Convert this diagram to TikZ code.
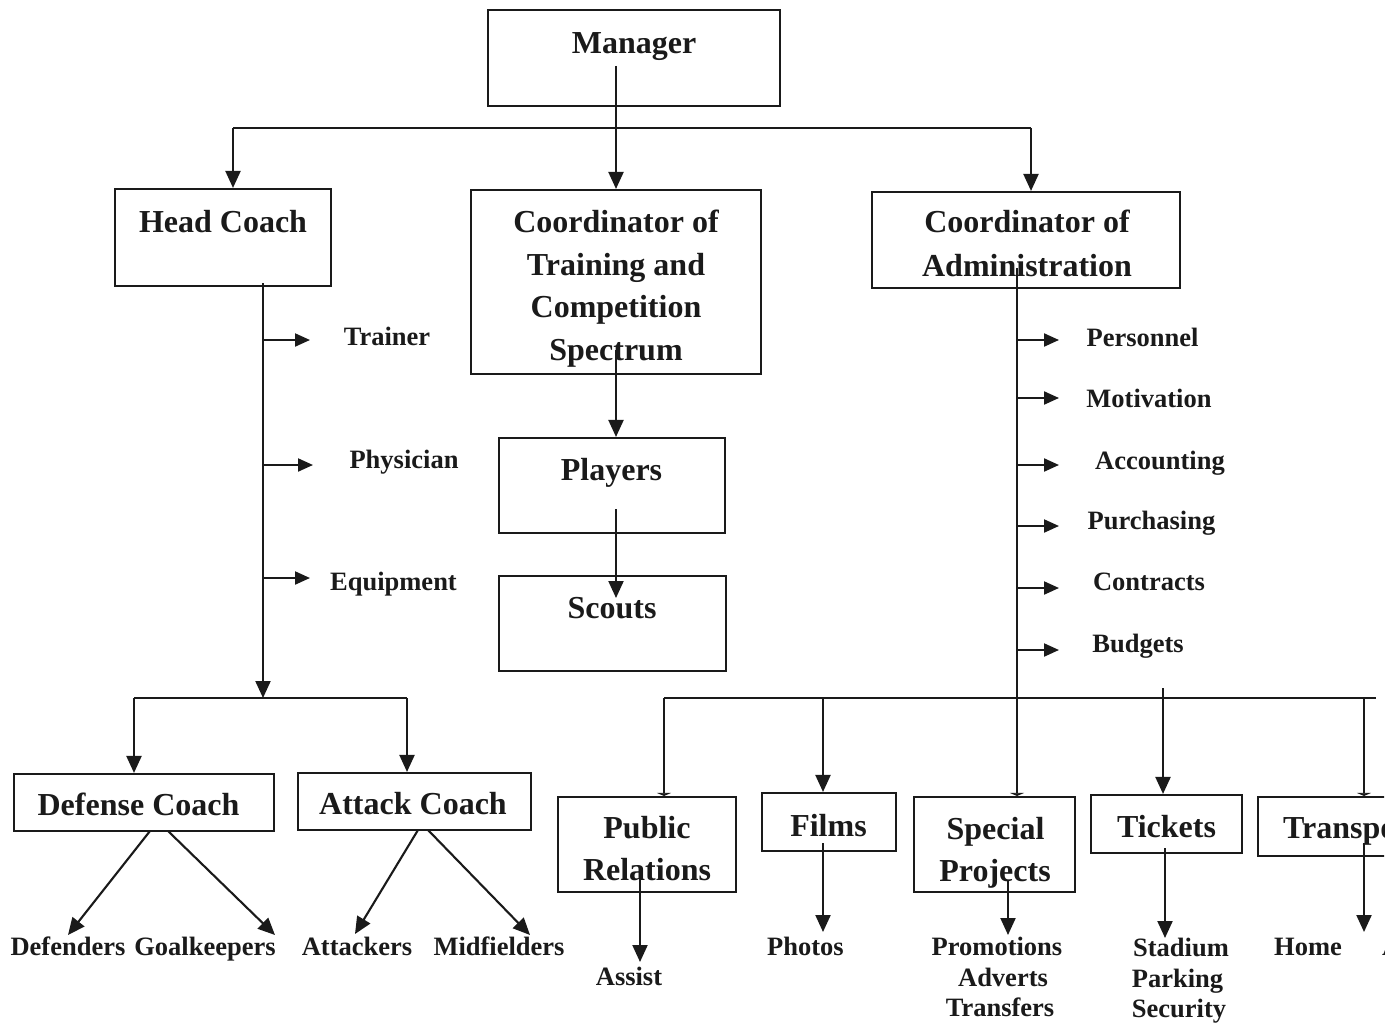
\documentclass[tikz,border=0pt]{standalone}
\usepackage{fontspec}
\setmainfont{Liberation Serif}
\usetikzlibrary{arrows.meta}
\definecolor{ink}{HTML}{1A1A1A}
\tikzset{
  box/.style={draw=ink, line width=2.1pt, inner sep=0pt, anchor=center},
  big/.style={font=\fontsize{32}{38}\bfseries\selectfont, text=ink, inner sep=0pt, anchor=base},
  small/.style={font=\fontsize{26.5}{30}\bfseries\selectfont, text=ink, inner sep=0pt, anchor=base},
  ln/.style={draw=ink, line width=2.1pt},
  arr/.style={ln, -{Triangle[width=15pt,length=17pt]}},
  sarr/.style={ln, -{Triangle[width=13pt,length=15pt]}},
  flat/.style={ln, -{Triangle[width=14pt,length=3pt]}}
}
\begin{document}
\begin{tikzpicture}[x=1pt,y=-1pt]
\useasboundingbox (0,0) rectangle (1391,1022);
\fill[white] (0,0) rectangle (1391,1022);
\clip (0,0) rectangle (1384,1022);

% ---------- boxes ----------
\node[box, minimum width=292pt, minimum height=96pt] (mgr) at (634,58) {};
\node[box, minimum width=216pt, minimum height=97pt] (hc) at (223,237.5) {};
\node[box, minimum width=290pt, minimum height=184pt] (ct) at (616,282) {};
\node[box, minimum width=308pt, minimum height=96pt] (ca) at (1026,240) {};
\node[box, minimum width=226pt, minimum height=95pt] (pl) at (612,485.5) {};
\node[box, minimum width=227pt, minimum height=95pt] (sc) at (612.5,623.5) {};
\node[box, minimum width=260pt, minimum height=57pt] (dc) at (144,802.5) {};
\node[box, minimum width=233pt, minimum height=57pt] (ac) at (414.5,801.5) {};
\node[box, minimum width=178pt, minimum height=95pt] (pr) at (647,844.5) {};
\node[box, minimum width=134pt, minimum height=58pt] (fi) at (829,822) {};
\node[box, minimum width=161pt, minimum height=95pt] (sp) at (994.5,844.5) {};
\node[box, minimum width=151pt, minimum height=58pt] (ti) at (1166.5,824) {};
\node[box, minimum width=182pt, minimum height=59pt] (tr) at (1349,826.5) {};

% ---------- box titles ----------
\node[big] (mgrT) at (634,54) {Manager};
\node[big] (hcT) at (223,232) {Head Coach};
\node[big] (ctT1) at (616,232) {Coordinator of};
\node[big] (ctT2) at (616,275) {Training and};
\node[big] (ctT3) at (616,317) {Competition};
\node[big] (ctT4) at (616,360) {Spectrum};
\node[big] (caT1) at (1027,232) {Coordinator of};
\node[big] (caT2) at (1027,276) {Administration};
\node[big] (plT) at (611.5,480) {Players};
\node[big] (scT) at (612,618) {Scouts};
\node[big] (dcT) at (138.5,815) {Defense Coach};
\node[big] (acT) at (413,814) {Attack Coach};
\node[big] (prT1) at (647,838) {Public};
\node[big] (prT2) at (647,880) {Relations};
\node[big] (fiT) at (828.5,836) {Films};
\node[big] (spT1) at (995.5,839) {Special};
\node[big] (spT2) at (995,881) {Projects};
\node[big] (tiT) at (1166.5,837) {Tickets};
\node[big, anchor=base west] (trT) at (1283,838) {Transport};

% ---------- side labels ----------
\node[small] (trn) at (387,345) {Trainer};
\node[small] (phy) at (404,468) {Physician};
\node[small] (equ) at (393.5,590) {Equipment};
\node[small] (per) at (1142.5,346) {Personnel};
\node[small] (mot) at (1149,407) {Motivation};
\node[small] (acc) at (1160,469) {Accounting};
\node[small] (pur) at (1151.5,529) {Purchasing};
\node[small] (con) at (1149,590) {Contracts};
\node[small] (bud) at (1138,652) {Budgets};

% ---------- bottom labels ----------
\node[small] (def) at (68,955) {Defenders};
\node[small] (gk) at (205,955) {Goalkeepers};
\node[small] (att) at (357,955) {Attackers};
\node[small] (mid) at (499,955) {Midfielders};
\node[small] (asst) at (629,985) {Assist};
\node[small] (pho) at (805.5,955) {Photos};
\node[small] (pro) at (997,955) {Promotions};
\node[small] (adv) at (1003,986) {Adverts};
\node[small] (trf) at (1000,1016) {Transfers};
\node[small] (sta) at (1181,956) {Stadium};
\node[small] (par) at (1177.5,987) {Parking};
\node[small] (sec) at (1179,1017) {Security};
\node[small] (hom) at (1308,955) {Home};
\node[small, anchor=base west] (awy) at (1382,955) {Away};

% ---------- coordinates ----------
\coordinate (mgrS) at (616,66);
\coordinate (busL) at (233,128);
\coordinate (busR) at (1031,128);
\coordinate (hcV) at (263,283);
\coordinate (bus2C) at (263,698);
\coordinate (b2L) at (134,698);
\coordinate (b2R) at (407,698);
\coordinate (ctV) at (616,350);
\coordinate (plV) at (616,509);
\coordinate (scA) at (616,598);
\coordinate (caV) at (1017,268);
\coordinate (b3L) at (664,698);
\coordinate (b3R) at (1376,698);
\coordinate (b3F) at (823,698);
\coordinate (b3T) at (1163,688);
\coordinate (b3X) at (1364,698);

% ---------- top level ----------
\draw[arr] (mgrS) -- (mgrS |- ct.north);
\draw[ln] (busL) -- (busR);
\draw[arr] (busL) -- (busL |- hc.north);
\draw[arr] (busR) -- (busR |- ca.north);

% ---------- head coach branch ----------
\draw[arr] (hcV) -- (bus2C);
\coordinate (hcTr) at (263,340);
\coordinate (hcPh) at (263,465);
\coordinate (hcEq) at (263,578);
\draw[sarr] (hcTr) -- (310,340);
\draw[sarr] (hcPh) -- (313,465);
\draw[sarr] (hcEq) -- (310,578);
\draw[ln] (b2L) -- (b2R);
\draw[arr] (b2L) -- (b2L |- dc.north);
\draw[arr] (b2R) -- (b2R |- ac.north);

\coordinate (dcA) at (150,831);
\coordinate (dcB) at (168,831);
\coordinate (acA) at (418,830);
\coordinate (acB) at (428,830);
\draw[arr] (dcA) -- (68,935);
\draw[arr] (dcB) -- (275,935);
\draw[arr] (acA) -- (355,934);
\draw[arr] (acB) -- (530,935);

% ---------- training branch ----------
\draw[arr] (ctV) -- (ctV |- pl.north);
\draw[arr] (plV) -- (scA);

% ---------- administration branch ----------
\draw[flat] (caV) -- (caV |- sp.north);
\foreach \yy in {340,398,465,526,588,650}{
  \draw[sarr] (1017,\yy) -- (1059,\yy);
}
\draw[ln] (b3L) -- (b3R);
\draw[flat] (b3L) -- (b3L |- pr.north);
\draw[arr] (b3F) -- (b3F |- fi.north);
\draw[arr] (b3T) -- (b3T |- ti.north);
\draw[flat] (b3X) -- (b3X |- tr.north);

% ---------- bottom arrows ----------
\coordinate (prV) at (640,880);
\coordinate (fiV) at (823,843);
\coordinate (spV) at (1008,880);
\coordinate (tiV) at (1165,848);
\coordinate (trV) at (1364,843);
\draw[arr] (prV) -- (640,962);
\draw[arr] (fiV) -- (823,932);
\draw[arr] (spV) -- (1008,935);
\draw[arr] (tiV) -- (1165,938);
\draw[arr] (trV) -- (1364,932);
\end{tikzpicture}
\end{document}
